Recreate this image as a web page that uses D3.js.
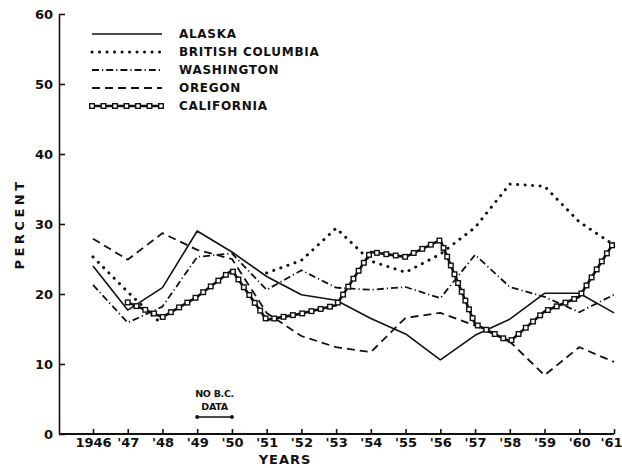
<!DOCTYPE html>
<html>
<head>
<meta charset="utf-8">
<script src="https://cdn.jsdelivr.net/npm/d3@7"></script>
<style>
  body { margin: 0; background: #fff; }
  svg { display: block; }
  text { font-family: "DejaVu Sans", sans-serif; font-weight: bold; fill: #111; }
  .axis path, .axis line { stroke: #111; stroke-width: 1.6; }
</style>
</head>
<body>
<div id="chart"></div>
<script>
// values (percent)
const years = [1946, 1947, 1948, 1949, 1950, 1951, 1952, 1953, 1954, 1955, 1956, 1957, 1958, 1959, 1960, 1961];
const yearLabels = ["1946", "'47", "'48", "'49", "'50", "'51", "'52", "'53", "'54", "'55", "'56", "'57", "'58", "'59", "'60", "'61"];
const percentTicks = [0, 10, 20, 30, 40, 50, 60];

const alaska = [24.0, 17.7, 20.9, 29.0, 26.0, 22.5, 19.9, 19.1, 16.5, 14.3, 10.6, 14.1, 16.4, 20.1, 20.1, 17.3];
const britishColumbia = [25.3, 20.3, 15.6, null, null, 23.0, 24.8, 29.4, 24.7, 23.1, 25.7, 29.5, 35.7, 35.4, 30.3, 27.0];
const washington = [21.3, 15.9, 18.2, 25.3, 25.8, 20.6, 23.4, 20.9, 20.6, 21.0, 19.4, 25.6, 21.0, 19.6, 17.4, 19.9];
const oregon = [27.9, 24.9, 28.7, 26.3, 25.0, 17.3, 14.0, 12.4, 11.7, 16.6, 17.3, 15.5, 13.2, 8.4, 12.4, 10.3];
const california = [null, 18.8, 16.7, 19.6, 23.4, 16.3, 17.2, 18.4, 26.0, 25.3, 27.7, 15.7, 13.2, 17.5, 19.6, 27.4];

const seriesNames = ["ALASKA", "BRITISH COLUMBIA", "WASHINGTON", "OREGON", "CALIFORNIA"];
const noDataNote = ["NO B.C.", "DATA"];
const noDataYears = [1949, 1950];

const width = 622, height = 468;

const svg = d3.select("#chart").append("svg")
  .attr("width", width)
  .attr("height", height);

// scales
const x = d3.scaleLinear().domain([1946, 1961]).range([93, 614]);
const y = d3.scaleLinear().domain([0, 60]).range([434, 14]);
const axisX = 59;

// line styles per series
const styles = [
  { dash: null, width: 1.6, cap: "butt" },
  { dash: "0.1,7.4", width: 3, cap: "round" },
  { dash: "7,3,1.2,3", width: 1.8, cap: "butt" },
  { dash: "8,5", width: 1.8, cap: "butt" },
  { dash: null, width: 2.6, cap: "butt", squares: true }
];
const allSeries = [alaska, britishColumbia, washington, oregon, california];

// y axis
const yAxis = svg.append("g")
  .attr("class", "axis")
  .attr("transform", "translate(" + axisX + ",0)")
  .call(d3.axisLeft(y).tickValues(percentTicks).tickSizeInner(-6).tickSizeOuter(0).tickPadding(6).tickFormat(d3.format("d")));
yAxis.selectAll("text").style("font-size", "13px");

// x axis (domain drawn by hand so it meets the y axis)
const xAxis = svg.append("g")
  .attr("class", "axis")
  .attr("transform", "translate(0," + y(0) + ")")
  .call(d3.axisBottom(x).tickValues(years).tickSizeInner(-5).tickSizeOuter(0).tickPadding(4)
    .tickFormat(function(d, i) { return yearLabels[i]; }));
xAxis.select(".domain").remove();
xAxis.selectAll("text")
  .style("font-size", "13px")
  .attr("dx", function(d, i) { return i === years.length - 1 ? -3 : 0; });
svg.append("line")
  .attr("x1", axisX).attr("x2", x(1961))
  .attr("y1", y(0)).attr("y2", y(0))
  .attr("stroke", "#111").attr("stroke-width", 1.8);

// axis titles
svg.append("text")
  .attr("transform", "translate(24," + y(30) + ") rotate(-90)")
  .attr("text-anchor", "middle")
  .style("font-size", "13px")
  .style("letter-spacing", "3.5px")
  .text("PERCENT");

svg.append("text")
  .attr("x", 285)
  .attr("y", 464)
  .attr("text-anchor", "middle")
  .style("font-size", "13px")
  .style("letter-spacing", "1px")
  .text("YEARS");

// data lines
const line = d3.line()
  .defined(function(d) { return d.v != null; })
  .x(function(d) { return x(d.year); })
  .y(function(d) { return y(d.v); });

function drawSquares(g, pathNode, step) {
  const total = pathNode.getTotalLength();
  const pts = [];
  for (let l = 0; l <= total; l += step) pts.push(pathNode.getPointAtLength(l));
  g.selectAll("rect.sq").data(pts).enter().append("rect")
    .attr("class", "sq")
    .attr("x", function(p) { return p.x - 2.3; })
    .attr("y", function(p) { return p.y - 2.3; })
    .attr("width", 4.6).attr("height", 4.6)
    .attr("fill", "#fff").attr("stroke", "#111").attr("stroke-width", 1.4);
}

allSeries.forEach(function(values, i) {
  const st = styles[i];
  const pts = years.map(function(yr, j) { return { year: yr, v: values[j] }; });
  const g = svg.append("g").attr("class", "series");
  const p = g.append("path")
    .attr("d", line(pts))
    .attr("fill", "none")
    .attr("stroke", "#111")
    .attr("stroke-width", st.width)
    .attr("stroke-linecap", st.cap)
    .attr("stroke-linejoin", "round");
  if (st.dash) p.attr("stroke-dasharray", st.dash);
  if (st.squares) drawSquares(g, p.node(), 9.5);
});

// legend
const legendY = [34, 52, 70, 88, 106];
const legend = svg.append("g").attr("class", "legend");
seriesNames.forEach(function(name, i) {
  const st = styles[i];
  const g = legend.append("g");
  const p = g.append("path")
    .attr("d", "M92," + legendY[i] + "H162")
    .attr("fill", "none")
    .attr("stroke", "#111")
    .attr("stroke-width", st.width)
    .attr("stroke-linecap", st.cap);
  if (st.dash) p.attr("stroke-dasharray", st.dash);
  if (st.squares) drawSquares(g, p.node(), 11.5);
  g.append("text")
    .attr("x", 179)
    .attr("y", legendY[i])
    .attr("dy", "0.36em")
    .style("font-size", "12px")
    .style("letter-spacing", "0.7px")
    .text(name);
});

// "no B.C. data" note
const note = svg.append("g").attr("class", "note");
const noteX = (x(noDataYears[0]) + x(noDataYears[1])) / 2;
note.selectAll("text").data(noDataNote).enter().append("text")
  .attr("x", noteX)
  .attr("y", function(d, i) { return 397 + i * 13; })
  .attr("text-anchor", "middle")
  .style("font-size", "9.5px")
  .style("letter-spacing", "-0.3px")
  .text(function(d) { return d; });
note.append("line")
  .attr("x1", x(noDataYears[0])).attr("x2", x(noDataYears[1]))
  .attr("y1", 417).attr("y2", 417)
  .attr("stroke", "#111").attr("stroke-width", 1.6);
note.selectAll("circle").data(noDataYears).enter().append("circle")
  .attr("cx", function(d) { return x(d); })
  .attr("cy", 417)
  .attr("r", 2)
  .attr("fill", "#111");
</script>
</body>
</html>
